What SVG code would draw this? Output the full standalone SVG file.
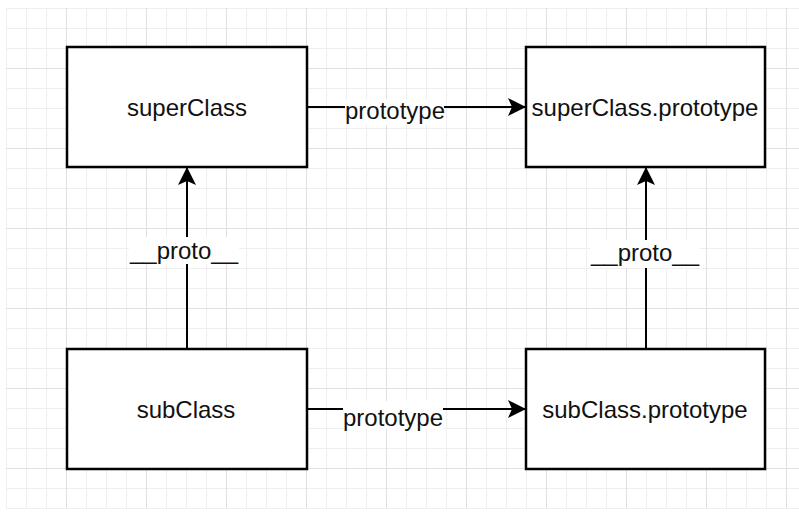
<svg xmlns="http://www.w3.org/2000/svg" width="799" height="529" viewBox="0 0 799 529">
<defs>
<pattern id="minor" x="6" y="8" width="20" height="20" patternUnits="userSpaceOnUse">
<path d="M0.5,0 V20 M0,0.5 H20" fill="none" stroke="#efefef" stroke-width="1"/>
</pattern>
<pattern id="major" x="66" y="68" width="80" height="80" patternUnits="userSpaceOnUse">
<path d="M0.5,0 V80 M0,0.5 H80" fill="none" stroke="#e0e0e0" stroke-width="1"/>
</pattern>
<marker id="arr" viewBox="0 0 18 18" refX="18" refY="9" markerWidth="18" markerHeight="18" markerUnits="userSpaceOnUse" orient="auto">
<path d="M0,0 L18,9 L0,18 L4,9 Z" fill="#000"/>
</marker>
<style>
.box{fill:#fff;stroke:#000;stroke-width:2.5}
.t{font-family:"Liberation Sans",Arial,Helvetica,sans-serif;font-size:24px;fill:#111;text-anchor:middle}
.edge{stroke:#000;stroke-width:2;fill:none}
.lblbg{fill:#fff}
</style>
</defs>
<rect width="799" height="529" fill="#fff"/>
<rect x="6" y="8" width="793" height="501" fill="url(#minor)"/>
<rect x="6" y="8" width="793" height="501" fill="url(#major)"/>
<g id="connectors">
<line class="edge" x1="307" y1="107" x2="526" y2="107" marker-end="url(#arr)"/>
<rect class="lblbg" x="345" y="99" width="99" height="26"/>
<text class="t" x="395" y="119">prototype</text>
<line class="edge" x1="307" y1="409" x2="526" y2="409" marker-end="url(#arr)"/>
<rect class="lblbg" x="343" y="401" width="100" height="28"/>
<text class="t" x="393" y="426">prototype</text>
<line class="edge" x1="187" y1="349" x2="187" y2="167" marker-end="url(#arr)"/>
<rect class="lblbg" x="129" y="237" width="110" height="27"/>
<text class="t" x="184" y="259">__proto__</text>
<line class="edge" x1="646" y1="349" x2="646" y2="167" marker-end="url(#arr)"/>
<rect class="lblbg" x="590" y="240" width="110" height="28"/>
<text class="t" x="645" y="261">__proto__</text>
</g>
<g id="superClass">
<rect class="box" x="67" y="47" width="240" height="120"/>
<text class="t" x="187" y="116">superClass</text>
</g>
<g id="superClassPrototype">
<rect class="box" x="526" y="47" width="239" height="120"/>
<text class="t" x="645" y="116">superClass.prototype</text>
</g>
<g id="subClass">
<rect class="box" x="67" y="349" width="240" height="120"/>
<text class="t" x="186" y="418">subClass</text>
</g>
<g id="subClassPrototype">
<rect class="box" x="526" y="349" width="239" height="120"/>
<text class="t" x="645" y="418">subClass.prototype</text>
</g>
</svg>
